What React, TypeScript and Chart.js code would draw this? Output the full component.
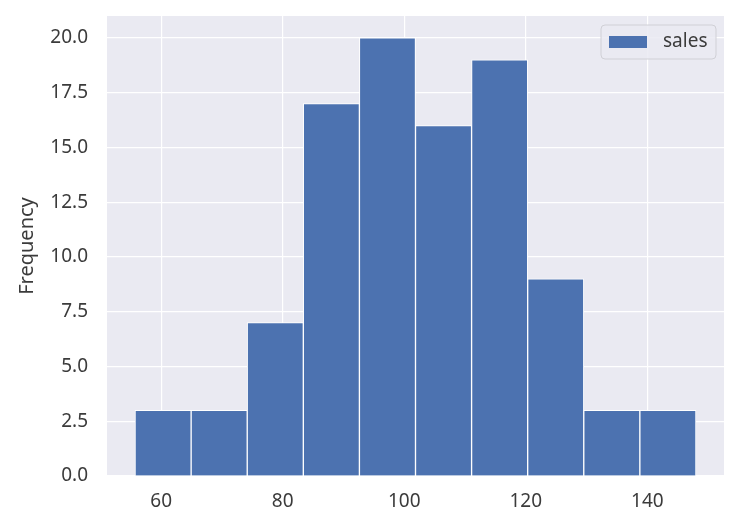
import React, { useEffect, useRef } from "react";
import { Chart, registerables } from "chart.js";

Chart.register(...registerables);

const binEdges = [55.7, 64.93, 74.16, 83.39, 92.62, 101.85, 111.08, 120.31, 129.54, 138.77, 148.0];
const counts = [3, 3, 7, 17, 20, 16, 19, 9, 3, 3];
const xTicks = [60, 80, 100, 120, 140];
const yTicks = [0, 2.5, 5, 7.5, 10, 12.5, 15, 17.5, 20];
const seriesLabel = "sales";
const yTitle = "Frequency";

const FONT = "'Noto Sans', sans-serif";
const TEXT = "#3b3b3b";

const bgPlugin = {
  id: "bgPlugin",
  beforeDraw(chart: any) {
    const { ctx, chartArea } = chart;
    ctx.save();
    ctx.fillStyle = "#EAEAF2";
    ctx.fillRect(chartArea.left, chartArea.top, chartArea.right - chartArea.left, chartArea.bottom - chartArea.top);
    ctx.restore();
  },
  afterDraw(chart: any) {
    const { ctx, chartArea } = chart;
    const boxR = chartArea.right - 8;
    const boxW = 115;
    const boxL = boxR - boxW;
    const boxT = chartArea.top + 9;
    const boxH = 34;
    ctx.save();
    ctx.beginPath();
    if (ctx.roundRect) ctx.roundRect(boxL, boxT, boxW, boxH, 4);
    else ctx.rect(boxL, boxT, boxW, boxH);
    ctx.fillStyle = "rgba(234,234,242,0.85)";
    ctx.fill();
    ctx.strokeStyle = "#d0d0d6";
    ctx.lineWidth = 1;
    ctx.stroke();
    ctx.fillStyle = "#4C72B0";
    ctx.fillRect(boxL + 8, boxT + 11, 38, 12);
    ctx.fillStyle = TEXT;
    ctx.font = "19px " + FONT;
    ctx.textBaseline = "middle";
    ctx.textAlign = "left";
    ctx.fillText(seriesLabel, boxL + 62, boxT + boxH / 2);
    ctx.restore();
  },
};

export default function App() {
  const ref = useRef<HTMLCanvasElement | null>(null);
  useEffect(() => {
    if (!ref.current) return;
    const data = counts.map((c, i) => ({ x: (binEdges[i] + binEdges[i + 1]) / 2, y: c }));
    const lo = binEdges[0];
    const hi = binEdges[binEdges.length - 1];
    const pad = (hi - lo) * 0.05;
    const chart = new Chart(ref.current, {
      type: "bar",
      data: {
        datasets: [
          {
            label: seriesLabel,
            data,
            backgroundColor: "#4C72B0",
            borderColor: "#ffffff",
            borderWidth: 1,
            borderSkipped: "start",
            barPercentage: 1,
            categoryPercentage: 1,
          } as any,
        ],
      },
      options: {
        animation: false,
        responsive: false,
        maintainAspectRatio: false,
        layout: { padding: { top: 16, right: 16, left: 0, bottom: 0 } },
        plugins: { legend: { display: false }, tooltip: { enabled: false } },
        scales: {
          x: {
            type: "linear",
            offset: false,
            min: lo - pad,
            max: hi + pad,
            border: { display: false },
            grid: { color: "#ffffff", lineWidth: 1.2, drawTicks: false, offset: false },
            afterBuildTicks: (s: any) => {
              s.ticks = xTicks.map((v) => ({ value: v }));
            },
            afterFit: (s: any) => {
              s.height = 47;
              s.paddingLeft = 0;
              s.paddingRight = 0;
            },
            ticks: {
              color: TEXT,
              font: { family: FONT, size: 19 },
              padding: 14,
              callback: (v: any) => String(v),
            },
          },
          y: {
            type: "linear",
            min: 0,
            max: 21,
            border: { display: false },
            grid: { color: "#ffffff", lineWidth: 1.2, drawTicks: false },
            afterBuildTicks: (s: any) => {
              s.ticks = yTicks.map((v) => ({ value: v }));
            },
            afterFit: (s: any) => {
              s.width = 107;
              s.paddingTop = 0;
              s.paddingBottom = 0;
            },
            ticks: {
              color: TEXT,
              font: { family: FONT, size: 19 },
              padding: 19,
              callback: (v: any) => Number(v).toFixed(1),
            },
            title: {
              display: true,
              text: yTitle,
              color: TEXT,
              font: { family: FONT, size: 20 },
              padding: { top: 15, bottom: 0 },
            },
          },
        },
      },
      plugins: [bgPlugin],
    });
    return () => chart.destroy();
  }, []);
  return (
    <div style={{ position: "fixed", left: 0, top: 0, width: 740, height: 523, background: "#fff" }}>
      <canvas ref={ref} width={740} height={523} style={{ width: 740, height: 523 }} />
    </div>
  );
}
